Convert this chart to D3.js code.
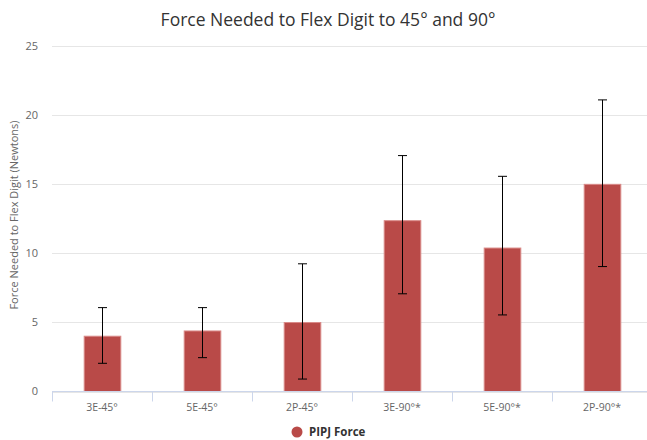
<!DOCTYPE html>
<html>
<head>
<meta charset="utf-8">
<script src="https://cdn.jsdelivr.net/npm/d3@7"></script>
<style>
  body { margin: 0; background: #fff; }
  svg { display: block; font-family: "Open Sans", "DejaVu Sans", sans-serif; }
</style>
</head>
<body>
<script>
var categories = ["3E-45°", "5E-45°", "2P-45°", "3E-90°*", "5E-90°*", "2P-90°*"];
var force = [4.0, 4.38, 4.99, 12.36, 10.38, 14.99];
var errLow = [2.04, 2.45, 0.9, 7.07, 5.54, 9.04];
var errHigh = [6.07, 6.07, 9.24, 17.07, 15.57, 21.1];
var yTicks = [0, 5, 10, 15, 20, 25];

var width = 647, height = 440;

var svg = d3.select("body").append("svg")
    .attr("width", width)
    .attr("height", height);

var x = d3.scaleBand()
    .domain(categories)
    .range([52, 652]);

var y = d3.scaleLinear()
    .domain([0, 25])
    .range([391.5, 46]);

// gridlines
svg.append("g")
  .selectAll("line")
  .data(yTicks)
  .enter().append("line")
    .attr("x1", 52)
    .attr("x2", width)
    .attr("y1", function(d) { return Math.round(y(d)) + 0.5; })
    .attr("y2", function(d) { return Math.round(y(d)) + 0.5; })
    .attr("stroke", "#e6e6e6")
    .attr("stroke-width", 1);

// y labels
svg.append("g")
  .selectAll("text")
  .data(yTicks)
  .enter().append("text")
    .attr("x", 38)
    .attr("y", function(d) { return y(d); })
    .attr("dy", "0.35em")
    .attr("text-anchor", "end")
    .attr("fill", "#666")
    .style("font-size", "11px")
    .text(function(d) { return d; });

// y title
svg.append("text")
    .attr("transform", "translate(14,215)rotate(-90)")
    .attr("text-anchor", "middle")
    .attr("dy", "0.35em")
    .attr("fill", "#666")
    .style("font-size", "11px")
    .text("Force Needed to Flex Digit (Newtons)");

var data = categories.map(function(c, i) {
  return { cat: c, v: force[i], lo: errLow[i], hi: errHigh[i] };
});

var barW = x.bandwidth() * 0.366;

// bars
svg.append("g")
  .selectAll("rect")
  .data(data)
  .enter().append("rect")
    .attr("x", function(d) { return x(d.cat) + x.bandwidth() / 2 - barW / 2 + 0.5; })
    .attr("y", function(d) { return y(d.v); })
    .attr("width", barW)
    .attr("height", function(d) { return y(0) - y(d.v); })
    .attr("fill", "#b94a48")
    .attr("stroke", "#d98a88")
    .attr("stroke-width", 1);

// x axis line + ticks
svg.append("line")
    .attr("x1", 52).attr("x2", width)
    .attr("y1", 391.5).attr("y2", 391.5)
    .attr("stroke", "#ccd6eb");

svg.append("g")
  .selectAll("line")
  .data(categories)
  .enter().append("line")
    .attr("x1", function(d) { return Math.round(x(d)) + 0.5; })
    .attr("x2", function(d) { return Math.round(x(d)) + 0.5; })
    .attr("y1", 391.5)
    .attr("y2", 401.5)
    .attr("stroke", "#ccd6eb");

svg.append("g")
  .selectAll("text")
  .data(categories)
  .enter().append("text")
    .attr("x", function(d) { return x(d) + x.bandwidth() / 2; })
    .attr("y", 407)
    .attr("dy", "0.35em")
    .attr("text-anchor", "middle")
    .attr("fill", "#666")
    .style("font-size", "10.5px")
    .text(function(d) { return d; });

// error bars
var eb = svg.append("g")
  .selectAll("g")
  .data(data)
  .enter().append("g")
    .attr("transform", function(d) { return "translate(" + (Math.round(x(d.cat) + x.bandwidth() / 2) + 0.5) + ",0)"; });

eb.append("line")
    .attr("y1", function(d) { return y(d.hi); })
    .attr("y2", function(d) { return y(d.lo); })
    .attr("stroke", "#000");

eb.append("line")
    .attr("x1", -4.5).attr("x2", 4.5)
    .attr("y1", function(d) { return y(d.hi); })
    .attr("y2", function(d) { return y(d.hi); })
    .attr("stroke", "#000");

eb.append("line")
    .attr("x1", -4.5).attr("x2", 4.5)
    .attr("y1", function(d) { return y(d.lo); })
    .attr("y2", function(d) { return y(d.lo); })
    .attr("stroke", "#000");

// title
svg.append("text")
    .attr("x", 328)
    .attr("y", 26)
    .attr("text-anchor", "middle")
    .attr("fill", "#333")
    .style("font-size", "17.5px")
    .text("Force Needed to Flex Digit to 45° and 90°");

// legend
var legend = svg.append("g");
legend.append("circle")
    .attr("cx", 297)
    .attr("cy", 432)
    .attr("r", 5.5)
    .attr("fill", "#b94a48");
legend.append("text")
    .attr("x", 309)
    .attr("y", 432)
    .attr("dy", "0.35em")
    .attr("fill", "#333")
    .style("font-size", "11.5px")
    .style("font-weight", "bold")
    .text("PIPJ Force");
</script>
</body>
</html>
